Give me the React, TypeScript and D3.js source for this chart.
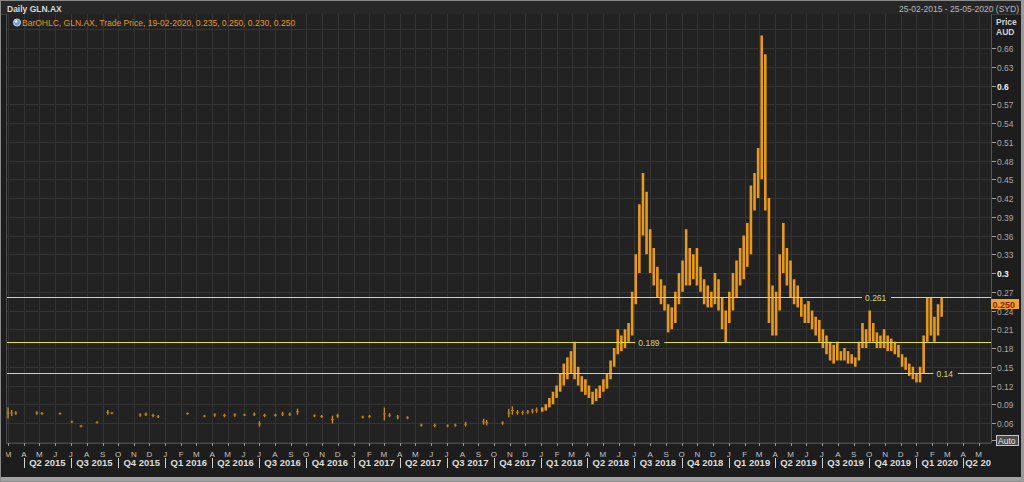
import React from 'react';
import * as d3 from 'd3';

const chartTitle = 'Daily GLN.AX';
const rangeText = '25-02-2015 - 25-05-2020 (SYD)';
const seriesText = 'BarOHLC, GLN.AX, Trade Price, 19-02-2020, 0.235, 0.250, 0.230, 0.250';
const domainDates = ['2015-02-25', '2020-05-25'];

// thinly traded period 2015-2017 (individual sessions)
const sparseDates = [
  '2015-03-01', '2015-03-08', '2015-03-16', '2015-04-26', '2015-05-06', '2015-06-10', '2015-07-03', '2015-07-21',
  '2015-08-21', '2015-09-11', '2015-09-19', '2015-11-13', '2015-11-24', '2015-12-08', '2015-12-18', '2016-02-13',
  '2016-03-17', '2016-04-06', '2016-04-25', '2016-05-15', '2016-06-03', '2016-06-22', '2016-07-02', '2016-07-12',
  '2016-08-02', '2016-08-16', '2016-08-30', '2016-09-14', '2016-10-17', '2016-10-31', '2016-11-21', '2016-12-01',
  '2017-01-19', '2017-02-01', '2017-03-02', '2017-03-12', '2017-03-28', '2017-04-16', '2017-05-13', '2017-06-08',
  '2017-07-03', '2017-07-18', '2017-08-07', '2017-09-11', '2017-09-17', '2017-10-18', '2017-10-30', '2017-11-06',
  '2017-11-16', '2017-11-26', '2017-12-06', '2017-12-15', '2017-12-23',
];
const sparseHighs = [
  0.084, 0.08, 0.078, 0.078, 0.077, 0.076, 0.063, 0.056,
  0.062, 0.08, 0.077, 0.075, 0.076, 0.074, 0.072, 0.076,
  0.072, 0.075, 0.074, 0.075, 0.074, 0.076, 0.062, 0.074,
  0.074, 0.077, 0.076, 0.082, 0.073, 0.072, 0.071, 0.074,
  0.071, 0.072, 0.084, 0.075, 0.072, 0.07, 0.058, 0.058,
  0.057, 0.058, 0.061, 0.066, 0.064, 0.062, 0.082, 0.086,
  0.08, 0.079, 0.08, 0.082, 0.084,
];
const sparseLows = [
  0.068, 0.072, 0.074, 0.074, 0.074, 0.074, 0.061, 0.054,
  0.06, 0.074, 0.075, 0.071, 0.072, 0.07, 0.069, 0.074,
  0.07, 0.071, 0.07, 0.071, 0.072, 0.072, 0.055, 0.07,
  0.071, 0.072, 0.072, 0.074, 0.07, 0.069, 0.06, 0.069,
  0.068, 0.069, 0.065, 0.07, 0.067, 0.067, 0.055, 0.054,
  0.054, 0.055, 0.055, 0.058, 0.057, 0.058, 0.07, 0.074,
  0.074, 0.074, 0.075, 0.076, 0.077,
];

// weekly ranges from the first week of 2018 to 19-02-2020
const weeklyStart = '2018-01-01';
const weeklyHighs = [
  0.085, 0.09, 0.1, 0.11, 0.12, 0.14, 0.155, 0.165, 0.175, 0.19,
  0.15, 0.135, 0.13, 0.12, 0.11, 0.115, 0.12, 0.13, 0.14, 0.16,
  0.18, 0.21, 0.2, 0.21, 0.22, 0.27, 0.33, 0.41, 0.46, 0.43,
  0.37, 0.34, 0.31, 0.29, 0.28, 0.25, 0.245, 0.27, 0.3, 0.32,
  0.37, 0.34, 0.33, 0.34, 0.31, 0.29, 0.28, 0.27, 0.3, 0.29,
  0.26, 0.24, 0.27, 0.3, 0.32, 0.34, 0.36, 0.38, 0.44, 0.46,
  0.5, 0.68, 0.65, 0.42, 0.28, 0.27, 0.33, 0.38, 0.34, 0.32,
  0.29, 0.28, 0.26, 0.25, 0.255, 0.24, 0.23, 0.225, 0.21, 0.2,
  0.19, 0.185, 0.19, 0.175, 0.18, 0.175, 0.17, 0.165, 0.19, 0.22,
  0.21, 0.24, 0.22, 0.205, 0.2, 0.21, 0.2, 0.195, 0.19, 0.185,
  0.17, 0.165, 0.155, 0.15, 0.14, 0.15, 0.2, 0.26, 0.26, 0.23,
  0.25, 0.26,
];
const weeklyLows = [
  0.078, 0.08, 0.085, 0.09, 0.1, 0.11, 0.12, 0.13, 0.14, 0.13,
  0.12, 0.11, 0.105, 0.1, 0.09, 0.095, 0.1, 0.11, 0.115, 0.13,
  0.15, 0.17, 0.175, 0.18, 0.19, 0.2, 0.25, 0.3, 0.36, 0.33,
  0.3, 0.28, 0.26, 0.25, 0.24, 0.205, 0.21, 0.22, 0.25, 0.27,
  0.28, 0.28, 0.29, 0.28, 0.27, 0.25, 0.245, 0.245, 0.25, 0.24,
  0.21, 0.188, 0.22, 0.24, 0.26, 0.28, 0.29, 0.31, 0.33, 0.4,
  0.42, 0.45, 0.4, 0.22, 0.2, 0.2, 0.24, 0.3, 0.28, 0.26,
  0.25, 0.245, 0.23, 0.22, 0.22, 0.21, 0.2, 0.19, 0.18, 0.17,
  0.16, 0.155, 0.16, 0.16, 0.16, 0.155, 0.155, 0.15, 0.16, 0.18,
  0.18, 0.19, 0.19, 0.18, 0.18, 0.18, 0.175, 0.175, 0.17, 0.165,
  0.15, 0.145, 0.135, 0.13, 0.125, 0.125, 0.14, 0.19, 0.2, 0.19,
  0.2, 0.23,
];

const yTickValues = [0.06, 0.09, 0.12, 0.15, 0.18, 0.21, 0.24, 0.27, 0.3, 0.33, 0.36, 0.39, 0.42, 0.45, 0.48, 0.51, 0.54, 0.57, 0.6, 0.63, 0.66];
const yTickLabels = ['0.06', '0.09', '0.12', '0.15', '0.18', '0.21', '0.24', '0.27', '0.3', '0.33', '0.36', '0.39', '0.42', '0.45', '0.48', '0.51', '0.54', '0.57', '0.6', '0.63', '0.66'];
const yStrongLabels = ['0.3', '0.6'];
const gridValues = [0.03, 0.06, 0.09, 0.12, 0.15, 0.18, 0.21, 0.24, 0.27, 0.3, 0.33, 0.36, 0.39, 0.42, 0.45, 0.48, 0.51, 0.54, 0.57, 0.6, 0.63, 0.66, 0.69];

const levelValues = [0.261, 0.189, 0.14];
const levelLabels = ['0.261', '0.189', '0.14'];
const levelLabelDates = ['2019-09-23', '2018-07-09', '2020-02-09'];

const lastPrice = 0.25;
const lastPriceLabel = '0.250';

const FONT = '"Liberation Sans", Arial, sans-serif';
const BG = '#1d1d1d';
const PLOT_BG = '#222222';
const GRID = '#343434';
const ORANGE = '#f29f1f';
const LEVEL = '#e2e22c';

export default function App() {
  const W = 1024;
  const H = 482;
  const plotLeft = 6;
  const plotRight = 991;
  const plotTop = 14;
  const plotBottom = 443;

  const parse = d3.utcParse('%Y-%m-%d');
  const d0 = parse(domainDates[0]) as Date;
  const d1 = parse(domainDates[1]) as Date;
  const x = d3.scaleUtc().domain([d0, d1]).range([plotLeft, plotRight]);
  const y = d3.scaleLinear().domain([0.06, 0.66]).range([423, 48]);

  const months = d3.utcMonth.range(d3.utcMonth.ceil(d0), d1);
  const quarterInterval = d3.utcMonth.every(3) as d3.TimeInterval;
  const quarters = quarterInterval.range(d3.utcMonth.ceil(d0), d1);

  const weekStart = parse(weeklyStart) as Date;
  const weekly = weeklyHighs.map((h, i) => ({
    date: d3.utcDay.offset(weekStart, 7 * i + 2),
    high: h,
    low: weeklyLows[i],
  }));
  const sparse = sparseDates.map((d, i) => ({ date: parse(d) as Date, high: sparseHighs[i], low: sparseLows[i] }));

  const monthLetter = (d: Date) => d3.utcFormat('%b')(d)[0];

  return (
    <svg width={W} height={H} style={{ position: 'absolute', left: 0, top: 0, background: BG }} fontFamily={FONT}>
      <defs>
        <clipPath id="plotClip">
          <rect x={plotLeft} y={plotTop} width={plotRight - plotLeft} height={plotBottom - plotTop} />
        </clipPath>
        <clipPath id="axisClip">
          <rect x={plotLeft} y={plotBottom} width={plotRight - plotLeft} height={H - plotBottom} />
        </clipPath>
      </defs>
      <rect x={0} y={0} width={W} height={H} fill={BG} />
      {/* header */}
      <rect x={0} y={0} width={W} height={plotTop} fill="#272727" />
      <line x1={0} x2={W} y1={plotTop + 0.5} y2={plotTop + 0.5} stroke="#3c3c3c" />
      <text x={7} y={12} fontSize={8.5} fontWeight="bold" fill="#d8d8d8">{chartTitle}</text>
      <text x={1019} y={11.5} fontSize={8.5} fill="#b8b8b8" textAnchor="end">{rangeText}</text>

      {/* plot */}
      <rect x={plotLeft} y={plotTop} width={plotRight - plotLeft} height={plotBottom - plotTop} fill={PLOT_BG} />
      <g clipPath="url(#plotClip)">
        {gridValues.map((v) => (
          <line key={'h' + v} x1={plotLeft} x2={plotRight} y1={Math.round(y(v)) + 0.5} y2={Math.round(y(v)) + 0.5} stroke={GRID} />
        ))}
        {months.map((m) => (
          <line key={'v' + m.getTime()} x1={Math.round(x(m)) + 0.5} x2={Math.round(x(m)) + 0.5} y1={plotTop} y2={plotBottom} stroke={GRID} />
        ))}
        {sparse.map((b, i) => (
          <g key={'s' + i}>
            <line x1={x(b.date)} x2={x(b.date)} y1={y(b.high) - 0.5} y2={y(b.low) + 0.5} stroke="#c98a1c" strokeWidth={1.4} />
            <line x1={x(b.date) - 1.5} x2={x(b.date) + 1.5} y1={y((b.high + b.low) / 2)} y2={y((b.high + b.low) / 2)} stroke="#b07a18" strokeWidth={1} />
          </g>
        ))}
        {weekly.map((b, i) => (
          <rect
            key={'w' + i}
            x={x(b.date) - 1.3}
            width={2.6}
            y={y(b.high)}
            height={Math.max(1, y(b.low) - y(b.high))}
            fill={ORANGE}
            opacity={0.95}
          />
        ))}
        {levelValues.map((v, i) => {
          const ly = Math.round(y(v)) + 0.5;
          const lx = x(parse(levelLabelDates[i]) as Date);
          const tw = levelLabels[i].length * 4.6;
          return (
            <g key={'l' + i}>
              <line x1={plotLeft} x2={plotRight} y1={ly} y2={ly} stroke={LEVEL} strokeWidth={1} />
              <rect x={lx - 3} y={ly - 5} width={tw + 6} height={10} fill={PLOT_BG} />
              <text x={lx} y={ly + 3} fontSize={8.5} fill="#d6d67a">{levelLabels[i]}</text>
            </g>
          );
        })}
      </g>
      {/* series legend */}
      <circle cx={17} cy={22.5} r={3.6} fill="#6f9fd6" stroke="#dfe9f5" strokeWidth={0.8} />
      <circle cx={16} cy={21.5} r={1.2} fill="#ffffff" />
      <text x={22} y={25.5} fontSize={8.5} fill="#e8961e">{seriesText}</text>

      {/* plot frame */}
      <line x1={plotLeft + 0.5} x2={plotLeft + 0.5} y1={plotTop} y2={plotBottom} stroke="#4a4a4a" />
      <line x1={plotLeft} x2={plotRight} y1={plotBottom + 0.5} y2={plotBottom + 0.5} stroke="#4a4a4a" />
      <line x1={plotRight + 0.5} x2={plotRight + 0.5} y1={plotTop} y2={plotBottom} stroke="#555555" />

      {/* y axis */}
      <text x={996} y={25} fontSize={8.5} fontWeight="bold" fill="#d0d0d0">Price</text>
      <text x={996} y={35} fontSize={8.5} fontWeight="bold" fill="#d0d0d0">AUD</text>
      {yTickValues.map((v, i) => {
        const ty = Math.round(y(v)) + 0.5;
        const strong = yStrongLabels.includes(yTickLabels[i]);
        return (
          <g key={'yt' + v}>
            <line x1={992} x2={996} y1={ty} y2={ty} stroke="#a0a0a0" />
            <text x={997} y={ty + 3} fontSize={8.5} fill={strong ? '#f0f0f0' : '#a8a8a8'} fontWeight={strong ? 'bold' : 'normal'}>
              {yTickLabels[i]}
            </text>
          </g>
        );
      })}
      <rect x={991} y={Math.round(y(lastPrice)) - 5} width={28} height={10} fill="#f0a22a" />
      <text x={992.5} y={Math.round(y(lastPrice)) + 3.5} fontSize={9} fontWeight="bold" fill="#8a1f05">{lastPriceLabel}</text>

      {/* Auto button */}
      <line x1={992} x2={996} y1={440.5} y2={440.5} stroke="#a0a0a0" />
      <rect x={996.5} y={435.5} width={22} height={10} fill="#4a4a4a" stroke="#c8c8c8" strokeWidth={1} />
      <text x={998} y={443.5} fontSize={8.5} fill="#e6e6e6">Auto</text>

      {/* x axis */}
      <g clipPath="url(#axisClip)">
        {months.map((m) => (
          <g key={'m' + m.getTime()}>
            <line x1={Math.round(x(m)) + 0.5} x2={Math.round(x(m)) + 0.5} y1={plotBottom} y2={plotBottom + 3} stroke="#9a9a9a" />
            <text x={x(m)} y={456.5} fontSize={8} fill="#c4c4c4" textAnchor="middle">{monthLetter(m)}</text>
          </g>
        ))}
        {quarters.map((q) => {
          const next = d3.utcMonth.offset(q, 3);
          const partial = next > d1;
          const label = `Q${Math.floor(q.getUTCMonth() / 3) + 1} ${q.getUTCFullYear()}`;
          const cx = (x(q) + x(next)) / 2;
          return (
            <g key={'q' + q.getTime()}>
              <line x1={Math.round(x(q)) + 0.5} x2={Math.round(x(q)) + 0.5} y1={458} y2={468} stroke="#cfcfcf" />
              <text
                x={partial ? x(q) + 2 : cx}
                y={466}
                fontSize={9.5}
                fontWeight="bold"
                fill="#dcdcdc"
                textAnchor={partial ? 'start' : 'middle'}
              >
                {label}
              </text>
            </g>
          );
        })}
      </g>

      {/* outer frame */}
      <rect x={0} y={477} width={W} height={5} fill="#a2a2a2" />
      <rect x={0.5} y={0.5} width={W - 1} height={H - 1} fill="none" stroke="#8a8a8a" />
      <rect x={1021} y={0} width={3} height={H} fill="#9a9a9a" />
    </svg>
  );
}
